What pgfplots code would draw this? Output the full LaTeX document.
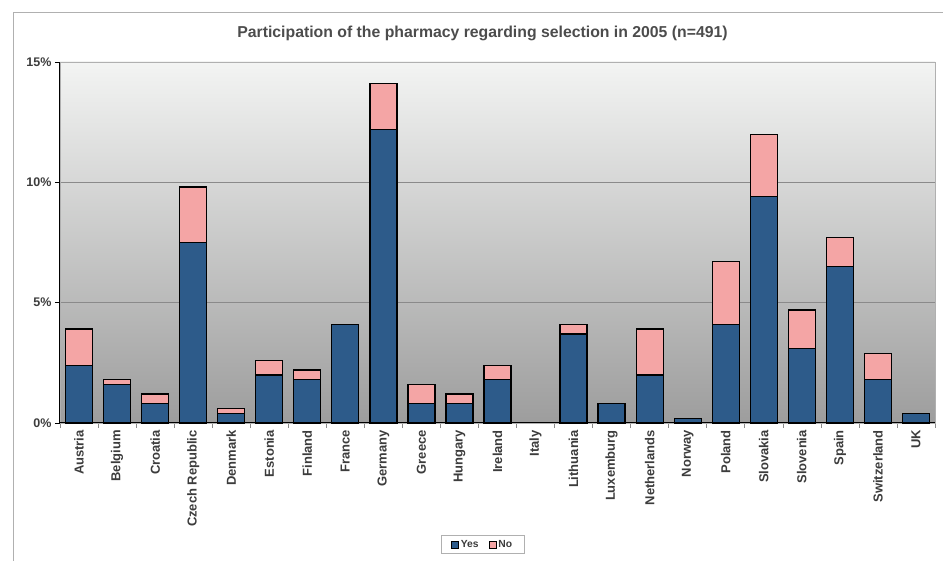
\documentclass[border=0pt]{standalone}
\usepackage{pgfplots}
\pgfplotsset{compat=1.18}
\usepackage{pgfplotstable}
\usepackage{fontspec}
\setmainfont{Liberation Sans}
\definecolor{yesc}{HTML}{2D5B8A}
\definecolor{noc}{HTML}{F4A5A5}
\definecolor{txt}{HTML}{3C3C3C}
\definecolor{ttl}{HTML}{4C4C4C}
\definecolor{frame}{HTML}{B0B0B0}
\definecolor{gridc}{HTML}{8A8A8A}
\definecolor{bgtop}{HTML}{F3F4F3}
\definecolor{bgmid}{HTML}{CACACA}
\definecolor{bgbot}{HTML}{9D9D9D}

\pgfplotstableread{
x yes no
0 2.4 1.5
1 1.6 0.2
2 0.8 0.4
3 7.5 2.3
4 0.4 0.2
5 2.0 0.6
6 1.8 0.4
7 4.1 0
8 12.2 1.9
9 0.8 0.8
10 0.8 0.4
11 1.8 0.6
12 0 0
13 3.7 0.4
14 0.8 0
15 2.0 1.9
16 0.2 0
17 4.1 2.6
18 9.4 2.6
19 3.1 1.6
20 6.5 1.2
21 1.8 1.1
22 0.4 0
}\datatable

\begin{document}
\begin{tikzpicture}
\path[use as bounding box] (-60pt,-138pt) rectangle (883pt,423pt);
\draw[frame,line width=0.8pt] (-47pt,-138pt) -- (-47pt,411pt) -- (883pt,411pt);
\node[text=ttl,font=\fontsize{15.8}{18}\selectfont\bfseries] at (422.5pt,390pt) {Participation of the pharmacy regarding selection in 2005 (n=491)};
\begin{axis}[
  at={(0pt,0pt)}, anchor=south west,
  scale only axis, width=875pt, height=361pt,
  xmin=-0.5, xmax=22.5, ymin=0, ymax=15,
  ybar stacked, bar width=27pt,
  axis background/.style={top color=bgtop, middle color=bgmid, bottom color=bgbot},
  axis line style={draw=frame, line width=0.8pt},
  ytick={0,5,10,15},
  yticklabels={0\%,5\%,10\%,15\%},
  ymajorgrids, major grid style={gridc, line width=0.8pt},
  xtick={0,...,22},
  xticklabels={Austria,Belgium,Croatia,Czech Republic,Denmark,Estonia,Finland,France,Germany,Greece,Hungary,Ireland,Italy,Lithuania,Luxemburg,Netherlands,Norway,Poland,Slovakia,Slovenia,Spain,Switzerland,UK},
  minor xtick={-0.5,0.5,...,22.5},
  tick align=outside, tick pos=left,
  major x tick style={draw=none},
  minor x tick style={draw=gridc, line width=0.6pt},
  minor tick length=5pt,
  y tick style={draw=black, line width=0.8pt},
  major tick length=5pt,
  x tick label style={rotate=90, anchor=east, text=txt, font=\fontsize{13}{15}\selectfont\bfseries, inner sep=2pt},
  y tick label style={text=txt, font=\fontsize{12.5}{14}\selectfont\bfseries},
  legend columns=2,
  legend style={at={(0.4829,-0.3366)}, anchor=center, draw=frame, line width=0.8pt,
    font=\fontsize{10.3}{12}\selectfont\bfseries, text=txt,
    inner xsep=10pt, inner ysep=3pt,
    /tikz/every even column/.append style={column sep=8pt}},
  legend image code/.code={\draw[#1, line width=0.8pt] (0pt,-3.5pt) rectangle (7pt,3.5pt);},
  clip=false,
]
\addplot[fill=yesc, draw=black, line width=1.3pt] table[x=x,y=yes] {\datatable};
\addlegendentry{Yes}
\addplot[fill=noc, draw=black, line width=1.3pt] table[x=x,y=no] {\datatable};
\addlegendentry{No}
\draw[black, line width=1pt] (rel axis cs:0,0) -- (rel axis cs:1,0);
\draw[black, line width=1pt] (rel axis cs:0,0) -- (rel axis cs:0,1);
\end{axis}
\end{tikzpicture}
\end{document}
